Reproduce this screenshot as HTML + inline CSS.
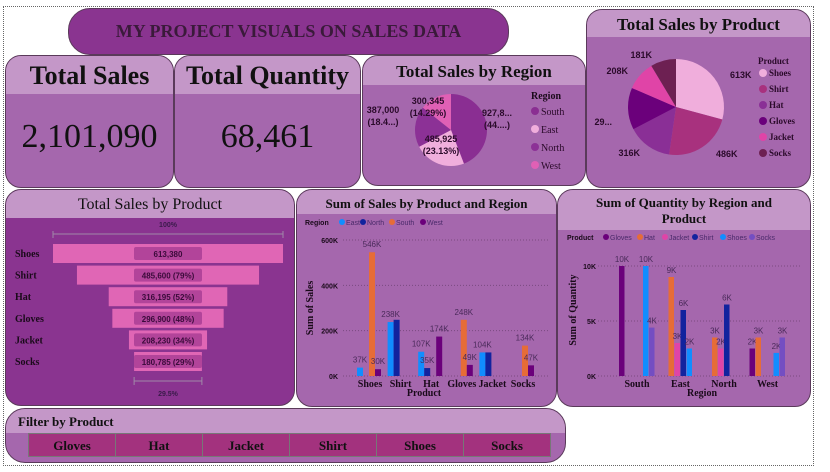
<!DOCTYPE html>
<html><head><meta charset="utf-8"><style>
body{margin:0;width:830px;height:472px;background:#fff;position:relative;overflow:hidden;font-family:"Liberation Serif",serif}
.frame{position:absolute;left:3px;top:6px;width:809px;height:458px;border:1px dotted #666}
.card{position:absolute;border:1px solid #5a3a5a;border-radius:16px;background:#a567ad;overflow:hidden;box-sizing:border-box}
.hd{background:#c497c8;text-align:center;font-weight:bold;color:#111}
.big{text-align:center;color:#111}
svg{position:absolute;left:0;top:0}
svg text{font-family:"Liberation Sans",sans-serif}
.btn{position:absolute;top:0;height:24px;line-height:24px;text-align:center;background:#a3327e;border:1px solid #777;box-sizing:border-box;font-size:13px;font-weight:bold;color:#111}
</style></head><body>
<div class="frame"></div>
<div class="card" style="left:68px;top:8px;width:441px;height:47px;background:#8a3490;border-radius:22px;text-align:center;line-height:45px;font-size:18px;font-weight:bold;color:#3a1a3a">MY PROJECT VISUALS ON SALES DATA</div>

<div class="card" style="left:5px;top:55px;width:169px;height:133px">
<div class="hd" style="height:38px;line-height:40px;font-size:26px">Total Sales</div>
<div class="big" style="font-size:34px;margin-top:24px">2,101,090</div></div>
<div class="card" style="left:174px;top:55px;width:187px;height:133px">
<div class="hd" style="height:38px;line-height:40px;font-size:26px">Total Quantity</div>
<div class="big" style="font-size:34px;margin-top:24px">68,461</div></div>

<div class="card" style="left:362px;top:55px;width:224px;height:131px">
<div class="hd" style="height:29px;line-height:32px;font-size:17px">Total Sales by Region</div></div>
<div class="card" style="left:586px;top:9px;width:225px;height:179px">
<div class="hd" style="height:27px;line-height:30px;font-size:17px">Total Sales by Product</div></div>

<div class="card" style="left:5px;top:189px;width:290px;height:217px;background:#8a3490">
<div class="hd" style="height:28px;line-height:30px;font-size:16px;font-weight:normal">Total Sales by Product</div></div>
<div class="card" style="left:296px;top:189px;width:261px;height:218px">
<div class="hd" style="height:24px;line-height:27px;font-size:13px">Sum of Sales by Product and Region</div></div>
<div class="card" style="left:557px;top:189px;width:254px;height:218px">
<div class="hd" style="height:40px;line-height:16px;font-size:13px;padding:5px 30px 0;box-sizing:border-box">Sum of Quantity by Region and Product</div></div>

<div class="card" style="left:5px;top:408px;width:561px;height:55px;border-radius:20px">
<div class="hd" style="height:24px;line-height:26px;font-size:13px;text-align:left;padding-left:12px">Filter by Product</div>
<div style="position:absolute;left:22px;top:24px">
<div class="btn" style="left:0;width:88px">Gloves</div>
<div class="btn" style="left:87px;width:88px">Hat</div>
<div class="btn" style="left:174px;width:88px">Jacket</div>
<div class="btn" style="left:261px;width:88px">Shirt</div>
<div class="btn" style="left:348px;width:88px">Shoes</div>
<div class="btn" style="left:435px;width:88px">Socks</div>
</div></div>

<svg id="s" width="830" height="472"></svg>
<script>
// Region pie
const regions=["South","East","North","West"];
const regionSales=[927800,485925,387000,300345];
const regionLabels=["927,8...","485,925","387,000","300,345"];
const regionPct=["(44....)","(23.13%)","(18.4...)","(14.29%)"];
// Product pie
const products=["Shoes","Shirt","Hat","Gloves","Jacket","Socks"];
const productSales=[613380,485600,316195,296900,208230,180785];
const productLabels=["613K","486K","316K","29...","208K","181K"];
const funnelLabels=["613,380","485,600 (79%)","316,195 (52%)","296,900 (48%)","208,230 (34%)","180,785 (29%)"];
// Sales bar chart
const barProducts=["Shoes","Shirt","Hat","Gloves","Jacket","Socks"];
const salesEast=[37,238,107,0,104,0];
const salesNorth=[0,248,35,0,104,0];
const salesSouth=[546,0,0,248,0,134];
const salesWest=[30,0,174,49,0,47];
const salesTicks=[0,200,400,600];
// Quantity bar chart
const qRegions=["South","East","North","West"];
const qGloves=[10,0,0,2.5];
const qHat=[0,9,3.5,3.5];
const qJacket=[0,3,2.5,0];
const qShirt=[0,6,6.5,0];
const qShoes=[10,2.5,0,2.1];
const qSocks=[4.4,0,0,3.5];
const qTicks=[0,5,10];

const S=document.getElementById('s');const NS="http://www.w3.org/2000/svg";
function mk(tag,at,name,txt){const e=document.createElementNS(NS,tag);for(const k in at)e.setAttribute(k,at[k]);


if(txt!==undefined)e.textContent=txt;S.appendChild(e);return e;}
function pie(cx,cy,r,vals,cols,name){const t=vals.reduce((a,b)=>a+b,0);let a=-Math.PI/2;const mids=[];
vals.forEach((v,i)=>{const b=a+v/t*2*Math.PI;const x1=cx+r*Math.cos(a),y1=cy+r*Math.sin(a),x2=cx+r*Math.cos(b),y2=cy+r*Math.sin(b);
mk('path',{d:`M${cx},${cy}L${x1},${y1}A${r},${r} 0 ${b-a>Math.PI?1:0} 1 ${x2},${y2}Z`,fill:cols[i]},name+'-slice-'+i);mids.push((a+b)/2);a=b;});return mids;}
// region pie
const rc=["#8a2e92","#f0aedc","#8c3196","#e060b5"];
const rm=pie(451,130,36,regionSales,rc,'region-pie');
const rpos=[[497,116],[441,142],[383,113],[428,104]];
regionLabels.forEach((l,i)=>{mk('text',{x:rpos[i][0],y:rpos[i][1],'font-size':9,'text-anchor':'middle',fill:'#2a0a2a','font-weight':'bold'},'region-label-'+i,l);
mk('text',{x:rpos[i][0],y:rpos[i][1]+12,'font-size':9,'text-anchor':'middle',fill:'#2a0a2a','font-weight':'bold'},'region-pct-'+i,regionPct[i]);});
mk('text',{x:531,y:99,'font-size':10,'font-weight':'bold',fill:'#1a0a1a',style:'font-family:Liberation Serif'},'region-legend-title','Region');
regions.forEach((g,i)=>{mk('circle',{cx:535,cy:111+i*18,r:4,fill:rc[i]},'region-legend-dot-'+i);
mk('text',{x:541,y:115+i*18,'font-size':10,fill:'#2a0a2a',style:'font-family:Liberation Serif'},'region-legend-'+g.toLowerCase(),g);});
// product pie
const pc=["#f0aedc","#a8317e","#8a2f96","#6b007b","#e044a7","#6d2052"];
pie(676,107,48,productSales,pc,'product-pie');
const ppos=[[730,78,'start'],[716,157,'start'],[640,156,'end'],[612,125,'end'],[628,74,'end'],[652,58,'end']];
productLabels.forEach((l,i)=>mk('text',{x:ppos[i][0],y:ppos[i][1],'font-size':9,'font-weight':'bold','text-anchor':ppos[i][2],fill:'#2a0a2a'},'product-pie-label-'+i,l));
mk('text',{x:758,y:64,'font-size':9,'font-weight':'bold',fill:'#2a0a2a',style:'font-family:Liberation Serif'},'product-legend-title','Product');
products.forEach((p,i)=>{mk('circle',{cx:763,cy:73+i*16,r:4,fill:pc[i]},'product-legend-dot-'+i);
mk('text',{x:769,y:76+i*16,'font-size':9,'font-weight':'bold',fill:'#2a0a2a',style:'font-family:Liberation Serif'},'product-legend-'+p.toLowerCase(),p);});
// funnel
const fmax=productSales[0],fW=230,fcx=168;
mk('text',{x:fcx,y:227,'font-size':7,'text-anchor':'middle',fill:'#3a1a4a','font-weight':'bold'},'funnel-top-pct','100%');
mk('path',{d:`M53,231V238M53,234H283M283,231V238`,stroke:'#a088a8',fill:'none'},'funnel-top-ruler');
productSales.forEach((v,i)=>{const w=v/fmax*fW,y=244+i*21.6;
mk('rect',{x:fcx-w/2,y:y,width:w,height:19,fill:'#e066b5'},'funnel-bar-'+products[i].toLowerCase());
mk('rect',{x:fcx-34,y:y+3,width:68,height:13,rx:2,fill:'#b2449a'},'funnel-label-bg-'+i);
mk('text',{x:fcx,y:y+13,'font-size':8,'text-anchor':'middle',fill:'#3a0a3a','font-weight':'bold'},'funnel-value-'+i,funnelLabels[i]);
mk('text',{x:15,y:y+13,'font-size':10,'font-weight':'bold',fill:'#1a0a1a',style:'font-family:Liberation Serif'},'funnel-category-'+i,products[i]);});
const ws=productSales[5]/fmax*fW;
mk('path',{d:`M${fcx-ws/2},377V385M${fcx-ws/2},381H${fcx+ws/2}M${fcx+ws/2},377V385`,stroke:'#a088a8',fill:'none'},'funnel-bottom-ruler');
mk('text',{x:fcx,y:396,'font-size':7,'text-anchor':'middle',fill:'#3a1a4a','font-weight':'bold'},'funnel-bottom-pct','29.5%');
// sales bars
function ySales(v){return 376-v/600*136;}
const sx0=370,sstep=30.6;
salesTicks.forEach(t=>{mk('line',{x1:343,x2:548,y1:ySales(t),y2:ySales(t),stroke:'#7a4a80','stroke-dasharray':'1,2'},'sales-gridline-'+t);
mk('text',{x:338,y:ySales(t)+3,'font-size':7,'font-weight':'bold','text-anchor':'end',fill:'#1a0a1a'},'sales-ytick-'+t,t+'K');});
const sser=[salesEast,salesNorth,salesSouth,salesWest],scol=["#118dff","#12239e","#e66c37","#6b007b"],sname=["East","North","South","West"];
barProducts.forEach((p,c)=>{const cx=sx0+c*sstep;
sser.forEach((ser,k)=>{const v=ser[c];if(!v)return;const x=cx-13+k*6;
mk('rect',{x:x,y:ySales(v),width:6,height:376-ySales(v),fill:scol[k]},'sales-bar-'+p.toLowerCase()+'-'+sname[k].toLowerCase());});
mk('text',{x:cx,y:387,'font-size':10,'font-weight':'bold','text-anchor':'middle',fill:'#1a0a1a',style:'font-family:Liberation Serif'},'sales-xtick-'+c,p);});
const slab=[[0,0,37],[0,2,546],[0,3,30],[1,0,238],[2,0,107],[2,1,35],[2,3,174],[3,2,248],[3,3,49],[4,0,104],[5,2,134],[5,3,47]];
slab.forEach(([c,k,v])=>{const x=sx0+c*sstep-13+k*6+3;mk('text',{x:x,y:ySales(sser[k][c])-5,'font-size':8,'text-anchor':'middle',fill:'#4a2a5a'},'sales-data-label',v+'K');});
mk('text',{x:424,y:396,'font-size':10,'font-weight':'bold','text-anchor':'middle',fill:'#1a0a1a',style:'font-family:Liberation Serif'},'sales-x-title','Product');
mk('text',{x:313,y:308,'font-size':10,'font-weight':'bold','text-anchor':'middle',fill:'#1a0a1a',transform:'rotate(-90 313 308)',style:'font-family:Liberation Serif'},'sales-y-title','Sum of Sales');
mk('text',{x:305,y:225,'font-size':7,'font-weight':'bold',fill:'#1a0a1a'},'sales-legend-title','Region');
sname.forEach((n,i)=>{const lx=[342,363,392,423][i];mk('circle',{cx:lx,cy:222,r:3,fill:scol[i]},'sales-legend-dot-'+i);
mk('text',{x:lx+4,y:225,'font-size':7,fill:'#4a2a6a'},'sales-legend-'+n.toLowerCase(),n);});
// quantity bars
function yQ(v){return 376-v/10*110;}
const qx0=637,qstep=43.5;
qTicks.forEach(t=>{mk('line',{x1:598,x2:800,y1:yQ(t),y2:yQ(t),stroke:'#7a4a80','stroke-dasharray':'1,2'},'qty-gridline-'+t);
mk('text',{x:596,y:yQ(t)+3,'font-size':7,'font-weight':'bold','text-anchor':'end',fill:'#1a0a1a'},'qty-ytick-'+t,t+'K');});
const qser=[qGloves,qHat,qJacket,qShirt,qShoes,qSocks],qcol=["#6b007b","#e66c37","#e044a7","#12239e","#118dff","#744ec2"],qname=["Gloves","Hat","Jacket","Shirt","Shoes","Socks"];
qRegions.forEach((r,c)=>{const cx=qx0+c*qstep;
qser.forEach((ser,k)=>{const v=ser[c];if(!v)return;const x=cx-18+k*6;
mk('rect',{x:x,y:yQ(v),width:5.5,height:376-yQ(v),fill:qcol[k]},'qty-bar-'+r.toLowerCase()+'-'+qname[k].toLowerCase());
mk('text',{x:x+3,y:yQ(v)-4,'font-size':8,'text-anchor':'middle',fill:'#4a2a5a'},'qty-data-label',Math.floor(v)+'K');});
mk('text',{x:cx,y:387,'font-size':10,'font-weight':'bold','text-anchor':'middle',fill:'#1a0a1a',style:'font-family:Liberation Serif'},'qty-xtick-'+c,r);});
mk('text',{x:702,y:396,'font-size':10,'font-weight':'bold','text-anchor':'middle',fill:'#1a0a1a',style:'font-family:Liberation Serif'},'qty-x-title','Region');
mk('text',{x:576,y:310,'font-size':10,'font-weight':'bold','text-anchor':'middle',fill:'#1a0a1a',transform:'rotate(-90 576 310)',style:'font-family:Liberation Serif'},'qty-y-title','Sum of Quantity');
mk('text',{x:567,y:240,'font-size':7,'font-weight':'bold',fill:'#1a0a1a'},'qty-legend-title','Product');
qname.forEach((n,i)=>{const lx=[606,640,665,695,723,752][i];mk('circle',{cx:lx,cy:237,r:3,fill:qcol[i]},'qty-legend-dot-'+i);
mk('text',{x:lx+4,y:240,'font-size':7,fill:'#4a2a6a'},'qty-legend-'+n.toLowerCase(),n);});
</script>
</body></html>
